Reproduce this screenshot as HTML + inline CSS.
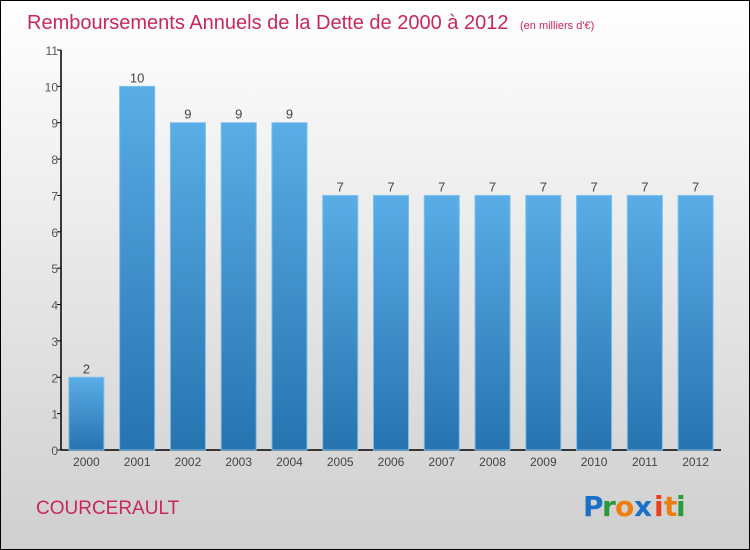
<!DOCTYPE html>
<html><head><meta charset="utf-8"><style>
html,body{margin:0;padding:0;}
body{width:750px;height:550px;overflow:hidden;font-family:"Liberation Sans",sans-serif;}
#wrap{position:absolute;left:0;top:0;width:748px;height:548px;border:1px solid #000;background:linear-gradient(#ffffff,#cfcfcf);}
</style></head><body>
<div id="wrap">
<svg width="750" height="550" style="position:absolute;left:-1px;top:-1px">
<defs><linearGradient id="bg" x1="0" y1="0" x2="0" y2="1"><stop offset="0" stop-color="#5aade6"/><stop offset="1" stop-color="#2673b0"/></linearGradient></defs>
<text x="27" y="29" font-size="20" fill="#c8285a">Remboursements Annuels de la Dette de 2000 à 2012 <tspan font-size="11" fill="#c8285a" dx="6">(en milliers d'€)</tspan></text>
<g id="axes"></g>
<g id="bars"></g>
<text x="36" y="514" font-size="19" fill="#c8285a">COURCERAULT</text>
<g font-size="28" font-weight="bold" font-family="'DejaVu Sans',sans-serif">
<text x="583" y="516" fill="#1a6fc8">P</text><text x="602" y="516" fill="#2a9a3a">r</text><text x="615" y="516" fill="#f07d10">o</text><text x="634" y="516" fill="#1a6fc8">x</text><text x="654" y="516" fill="#e8401a">i</text><text x="664" y="516" fill="#f07d10">t</text><text x="676" y="516" fill="#2a9a3a">i</text>
</g>
</svg>
</div>
<script>
const years=["2000","2001","2002","2003","2004","2005","2006","2007","2008","2009","2010","2011","2012"];
const values=[2,10,9,9,9,7,7,7,7,7,7,7,7];
const yTicks=[0,1,2,3,4,5,6,7,8,9,10,11];
const NS="http://www.w3.org/2000/svg";
const x0=61,x1=721,y0=450,yTop=50,yMax=11;
const step=(x1-x0)/years.length;
const ys=v=>y0-(y0-yTop)*v/yMax;
const xc=i=>x0+(i+0.5)*step;
function mk(t,a,p){const e=document.createElementNS(NS,t);for(const k in a)e.setAttribute(k,a[k]);p.appendChild(e);return e;}
const ax=document.getElementById('axes'),bg=document.getElementById('bars');
let l=mk('line',{x1:x0,y1:y0,x2:x0,y2:yTop,stroke:'#000','stroke-width':1.5},ax);


l=mk('line',{x1:x0,y1:y0,x2:x1,y2:y0,stroke:'#000','stroke-width':1.5},ax);


yTicks.forEach(v=>{
 mk('line',{x1:x0-4,y1:ys(v),x2:x0,y2:ys(v),stroke:'#000'},ax);
 const t=mk('text',{x:x0-3,y:ys(v)+5,'font-size':12,fill:'#555','text-anchor':'end'},ax);
 t.textContent=v;
 
 
});
years.forEach((yr,i)=>{
 const w=step*0.69,v=values[i];
 const r=mk('rect',{x:xc(i)-w/2,y:ys(v),width:w,height:y0-ys(v),fill:'url(#bg)',stroke:'#7cc0ee','stroke-width':1},bg);
 
 
 const t=mk('text',{x:xc(i),y:ys(v)-4,'font-size':13,fill:'#444','text-anchor':'middle'},bg);
 t.textContent=v;
 
 
 const xl=mk('text',{x:xc(i),y:y0+16,'font-size':12,fill:'#444','text-anchor':'middle'},ax);
 xl.textContent=yr;
 
 
});
</script>
</body></html>
